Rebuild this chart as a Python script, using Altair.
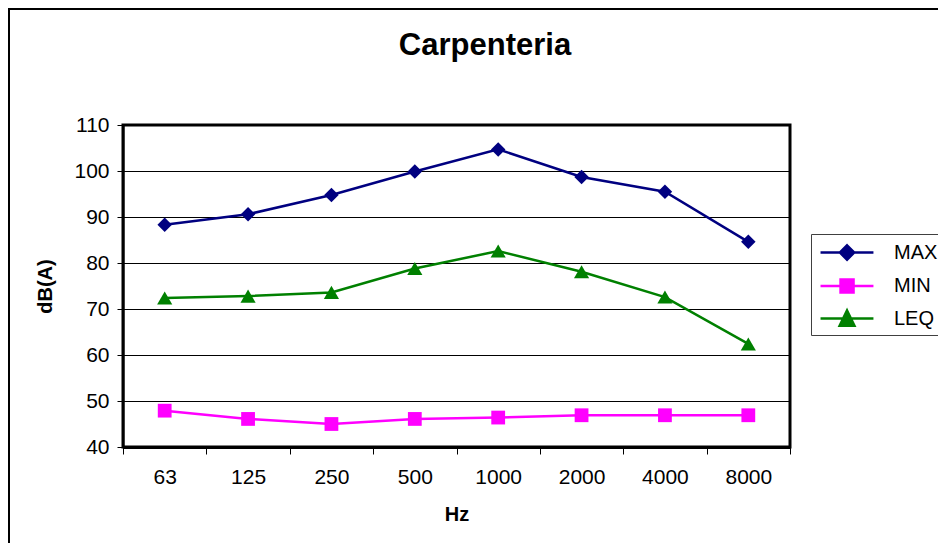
import altair as alt
import pandas as pd

hz = ["63", "125", "250", "500", "1000", "2000", "4000", "8000"]
max_db = [88.3, 90.6, 94.8, 99.9, 104.7, 98.7, 95.5, 84.6]
min_db = [47.9, 46.1, 45.0, 46.1, 46.4, 46.9, 46.9, 46.9]
leq_db = [72.4, 72.8, 73.6, 78.8, 82.6, 78.1, 72.6, 62.4]
series = ["MAX", "MIN", "LEQ"]
colors = ["#000080", "#FF00FF", "#008000"]
shapes = ["diamond", "square", "triangle-up"]
sizes = [210, 190, 230]
y_ticks = [40, 50, 60, 70, 80, 90, 100, 110]

# legend symbols: a line through the marker (unit = sqrt(size)/2 px)
legend_paths = [
    "M-0.69,0H3.38M1.35,-0.55L1.9,0L1.35,0.55L0.8,0Z",
    "M-0.69,0H3.38M0.85,-0.5H1.85V0.5H0.85Z",
    "M-0.69,0H3.38M1.35,-0.62L1.92,0.55H0.78Z",
]

rows = []
for s, vals in zip(series, [max_db, min_db, leq_db]):
    for h, v in zip(hz, vals):
        rows.append({"Hz": h, "series": s, "dB": v})
df = pd.DataFrame(rows)

FONT = "Liberation Sans"

x_enc = alt.X(
    "Hz:N",
    sort=hz,
    scale=alt.Scale(type="band", paddingInner=0, paddingOuter=0),
    axis=alt.Axis(
        title="Hz",
        tickBand="extent",
        labelAngle=0,
        grid=False,
        domainColor="black",
        domainWidth=3,
        tickColor="black",
        tickWidth=1,
        tickSize=7,
        labelPadding=12,
        labelFontSize=21,
        labelFont=FONT,
        labelColor="black",
        titleFont=FONT,
        titleFontSize=20,
        titleFontWeight="bold",
        titleColor="black",
        titlePadding=17,
    ),
)
y_enc = alt.Y(
    "dB:Q",
    scale=alt.Scale(domain=[40, 110], nice=False, zero=False),
    axis=alt.Axis(
        title="dB(A)",
        values=y_ticks,
        grid=True,
        gridColor="black",
        gridWidth=1,
        domainColor="black",
        domainWidth=2,
        tickColor="black",
        tickSize=6,
        labelPadding=8,
        labelFontSize=21,
        labelFont=FONT,
        labelColor="black",
        titleFont=FONT,
        titleFontSize=20,
        titleFontWeight="bold",
        titleColor="black",
        titlePadding=18,
    ),
)

legend = alt.Legend(
    title=None,
    orient="none",
    legendX=688,
    legendY=109,
    padding=4,
    strokeColor="#404040",
    fillColor="white",
    symbolSize=676,
    symbolStrokeWidth=2.5,
    symbolOpacity=1,
    rowPadding=6.5,
    labelOffset=50,
    labelFont=FONT,
    labelFontSize=20,
    labelColor="black",
)

base = alt.Chart(df)

lines = base.mark_line(strokeWidth=2.5).encode(
    x=x_enc,
    y=y_enc,
    color=alt.Color("series:N", scale=alt.Scale(domain=series, range=colors), legend=None),
)

point_layers = []
for s, c, sh, sz in zip(series, colors, shapes, sizes):
    point_layers.append(
        base.transform_filter(alt.datum.series == s)
        .mark_point(shape=sh, filled=True, size=sz, color=c, opacity=1)
        .encode(x=x_enc, y=y_enc)
    )

legend_layer = base.mark_point(filled=True, opacity=0).encode(
    x=x_enc,
    y=y_enc,
    fill=alt.Fill("series:N", scale=alt.Scale(domain=series, range=colors), legend=legend),
    stroke=alt.Stroke("series:N", scale=alt.Scale(domain=series, range=colors), legend=legend),
    shape=alt.Shape("series:N", scale=alt.Scale(domain=series, range=legend_paths), legend=legend),
)

frame = alt.Chart(pd.DataFrame({"a": [0]})).mark_rect(
    filled=False, stroke="black", strokeWidth=2
).encode(
    x=alt.value(-114), y=alt.value(-116), x2=alt.value(900), y2=alt.value(600)
)

title = alt.Chart(pd.DataFrame({"t": ["Carpenteria"]})).mark_text(
    font=FONT, fontSize=31, fontWeight="bold", color="black", baseline="alphabetic", align="center"
).encode(text="t:N", x=alt.value(362), y=alt.value(-70))

chart = (
    alt.layer(frame, legend_layer, lines, *point_layers, title)
    .properties(
        width=667,
        height=322,
        autosize=alt.AutoSizeParams(type="none"),
        padding={"left": 115, "top": 117, "right": 148, "bottom": 96},
        background="white",
    )
    .configure_view(stroke="black", strokeWidth=3)
)

chart.save("out.html", embed_options={"renderer": "svg", "actions": False})
